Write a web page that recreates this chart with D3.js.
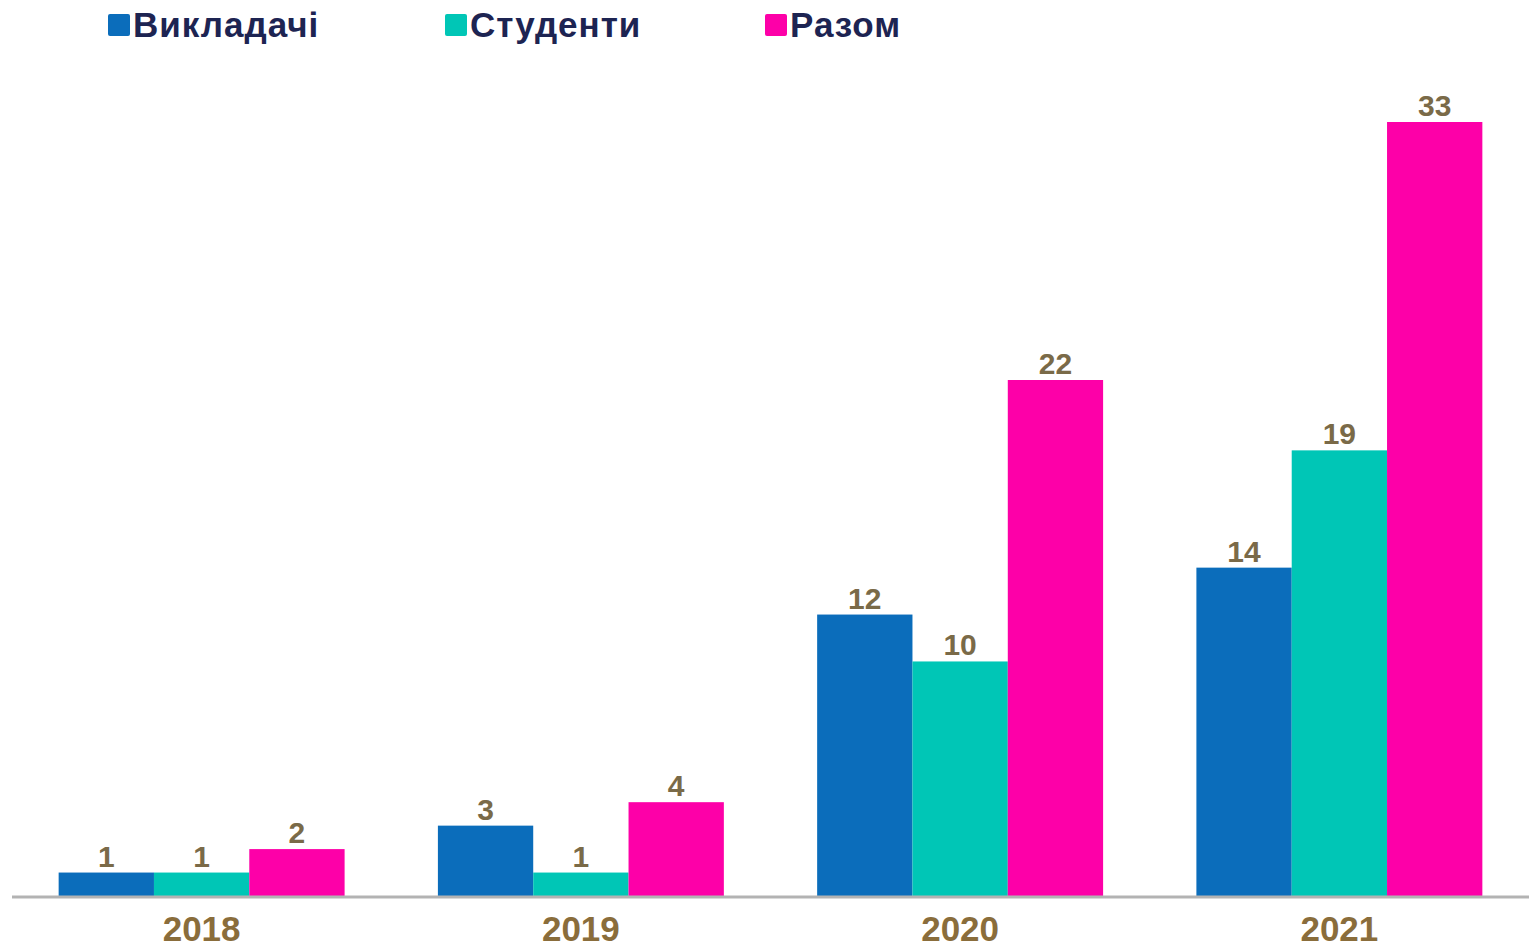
<!DOCTYPE html>
<html>
<head>
<meta charset="utf-8">
<script src="https://cdn.jsdelivr.net/npm/d3@7"></script>
<style>
  body { margin: 0; background: #fff; }
  svg text { font-family: "Liberation Sans", Arial, sans-serif; font-weight: bold; }
</style>
</head>
<body>
<div id="chart"></div>
<script>
var years = ["2018", "2019", "2020", "2021"];
var seriesNames = ["Викладачі", "Студенти", "Разом"];
var seriesColors = ["#0b6dbb", "#00c6b6", "#fd00a8"];
var teachers = [1, 3, 12, 14];
var students = [1, 1, 10, 19];
var total = [2, 4, 22, 33];

var width = 1531, height = 950;
var baseY = 896;

var svg = d3.select("#chart").append("svg")
	.attr("width", width)
	.attr("height", height);

var values = [teachers, students, total];

var x0 = d3.scaleBand()
	.domain(years)
	.range([12, 1529])
	.paddingInner(0.246)
	.paddingOuter(0.123);

var x1 = d3.scaleBand()
	.domain(seriesNames)
	.range([0, x0.bandwidth()]);

var y = d3.scaleLinear()
	.domain([0, 33])
	.range([baseY, 122]);

// build flat rows
var rows = [];
years.forEach(function(yr, i) {
	seriesNames.forEach(function(s, j) {
		rows.push({year: yr, series: s, value: values[j][i], color: seriesColors[j]});
	});
});

svg.selectAll("rect.bar")
	.data(rows)
	.enter()
	.append("rect")
	.attr("class", "bar")
	.attr("x", function(d) { return x0(d.year) + x1(d.series); })
	.attr("y", function(d) { return y(d.value); })
	.attr("width", x1.bandwidth())
	.attr("height", function(d) { return baseY - y(d.value); })
	.attr("fill", function(d) { return d.color; });

svg.selectAll("text.val")
	.data(rows)
	.enter()
	.append("text")
	.attr("class", "val")
	.attr("x", function(d) { return x0(d.year) + x1(d.series) + x1.bandwidth() / 2; })
	.attr("y", function(d) { return y(d.value) - 6; })
	.attr("text-anchor", "middle")
	.attr("font-size", "30px")
	.attr("fill", "#7a6a48")
	.text(function(d) { return d.value; });

// baseline
svg.append("line")
	.attr("x1", 12).attr("x2", 1529)
	.attr("y1", baseY + 1).attr("y2", baseY + 1)
	.attr("stroke", "#b3b3b3")
	.attr("stroke-width", 3);

// year labels
var xAxis = d3.axisBottom(x0).tickSize(0).tickPadding(0);
var ax = svg.append("g")
	.attr("transform", "translate(0," + baseY + ")")
	.call(xAxis);
ax.select(".domain").remove();
ax.selectAll("text")
	.attr("dy", null)
	.attr("y", 45)
	.attr("font-size", "35px")
	.attr("font-family", "'Liberation Sans', Arial, sans-serif")
	.attr("font-weight", "bold")
	.attr("fill", "#8a6d3b");

// legend
var legendX = [108, 445, 765];
var legend = svg.selectAll("g.legend")
	.data(seriesNames)
	.enter()
	.append("g")
	.attr("class", "legend")
	.attr("transform", function(d, i) { return "translate(" + legendX[i] + ",0)"; });

legend.append("rect")
	.attr("x", 0).attr("y", 14)
	.attr("width", 22).attr("height", 22)
	.attr("rx", 2)
	.attr("fill", function(d, i) { return seriesColors[i]; });

legend.append("text")
	.attr("x", 25).attr("y", 37)
	.attr("font-size", "35px")
	.attr("letter-spacing", "1px")
	.attr("fill", "#1d2452")
	.text(function(d) { return d; });
</script>
</body>
</html>
